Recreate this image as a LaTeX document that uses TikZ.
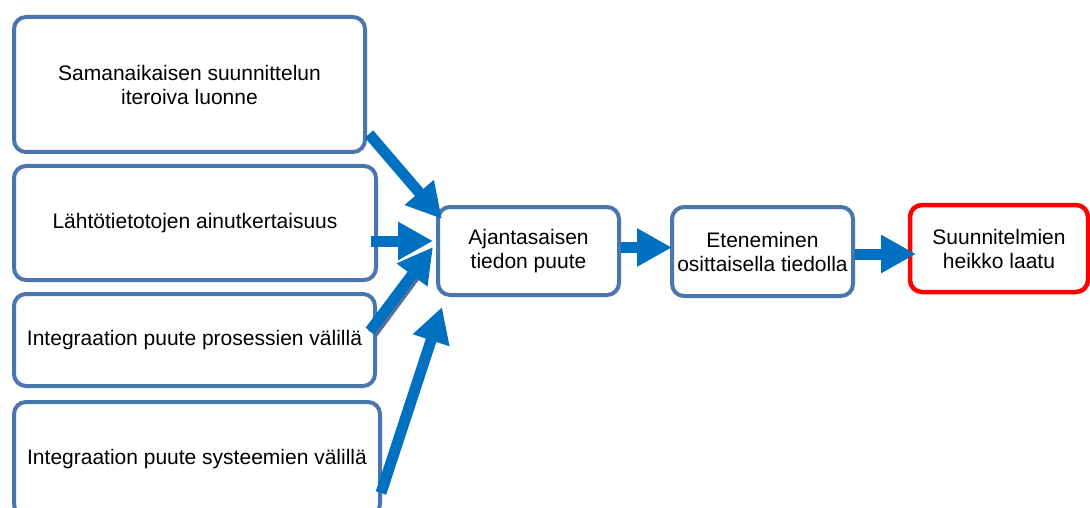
\documentclass[tikz,border=0pt]{standalone}
\usepackage{fontspec}
\setmainfont{Liberation Sans}
\usetikzlibrary{arrows.meta}
\definecolor{boxblue}{HTML}{4A76AF}
\definecolor{arrowblue}{HTML}{0070C0}
\definecolor{shaftshade}{HTML}{55709A}

\begin{document}
\begin{tikzpicture}[x=1pt,y=-1pt,
  box/.style={draw=boxblue, line width=4pt, rounded corners=12pt, fill=white,
    align=center, inner sep=0pt, font=\fontsize{21}{24}\selectfont},
  redbox/.style={box, draw=red, line width=4.5pt},
  flow/.style={draw=arrowblue, line width=11pt,
    -{Triangle[width=36pt,length=35pt]}}
]
\useasboundingbox (0,0) rectangle (1090,508);
\clip (0,0) rectangle (1090,508);
\fill[white] (0,0) rectangle (1090,508);

% causes
\node[box, minimum width=351pt, minimum height=135pt] (b1) at (189.5,84.5)
  {Samanaikaisen suunnittelun\\iteroiva luonne};
\node[box, minimum width=362pt, minimum height=114pt] (b2) at (195,223)
  {Lähtötietotojen ainutkertaisuus};
\node[box, minimum width=361pt, minimum height=92pt] (b3) at (194.5,340)
  {Integraation puute prosessien välillä};
\node[box, minimum width=366pt, minimum height=114pt] (b4) at (197,459)
  {Integraation puute systeemien välillä};

% chain of effects
\node[box, minimum width=181pt, minimum height=88pt] (b5) at (528.5,251)
  {Ajantasaisen\\tiedon puute};
\node[box, minimum width=181pt, minimum height=89pt] (b6) at (762.5,251.5)
  {Eteneminen\\osittaisella tiedolla};
\node[redbox, minimum width=178pt, minimum height=87pt] (b7) at (999,248.5)
  {Suunnitelmien\\heikko laatu};

% arrow end points
\coordinate (s1) at (369,134);  \coordinate (e1) at (442,219);
\coordinate (s2) at (371,241);  \coordinate (e2) at (433,241);
\coordinate (s3) at (370,331);  \coordinate (e3) at (433,247);
\coordinate (s4) at (381,493);  \coordinate (e4) at (442,307);
\coordinate (s5) at (b5.east |- 0,247.5); \coordinate (e5) at (672,247.5);
\coordinate (s6) at (b6.east |- 0,254);   \coordinate (e6) at (916,254);

% shaded edge under the third arrow's shaft
\draw[shaftshade, line width=11pt] ([shift={(2.5,2.5)}]s3) -- (415,276);

\draw[flow] (s1) -- (e1);
\draw[flow] (s2) -- (e2);
\draw[flow] (s3) -- (e3);
\draw[flow] (s4) -- (e4);
\draw[flow] (s5) -- (e5);
\draw[flow] (s6) -- (e6);
\end{tikzpicture}
\end{document}
